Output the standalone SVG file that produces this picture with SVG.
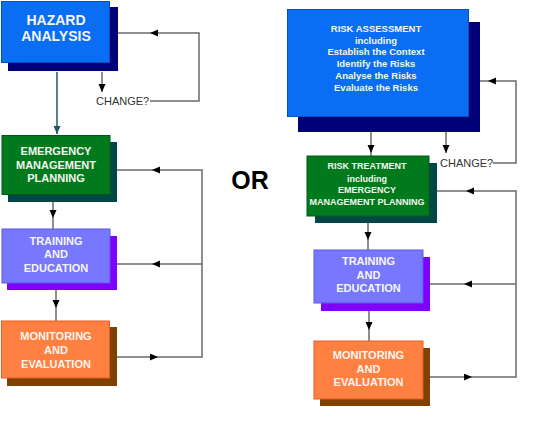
<svg xmlns="http://www.w3.org/2000/svg" width="548" height="438" viewBox="0 0 548 438">
<defs>
<style>
.t{font-family:"Liberation Sans",Arial,sans-serif;font-weight:bold;fill:#f6f6f0;text-anchor:middle}
.c{font-family:"Liberation Sans",Arial,sans-serif;font-size:11px;fill:#333}
.ln{fill:none;stroke:#6a6a6a;stroke-width:1.5}
.blue{fill:#0a6ef5;stroke:#0050c0;stroke-width:1}
.navy{fill:#000078}
.green{fill:#007a1c;stroke:#005a14;stroke-width:1}
.dteal{fill:#004848}
.lav{fill:#7777ff;stroke:#5a5ae0;stroke-width:1}
.purp{fill:#8000ff}
.orng{fill:#ff8040;stroke:#e06020;stroke-width:1}
.brwn{fill:#804000}
</style>
<marker id="ah" markerUnits="userSpaceOnUse" markerWidth="9" markerHeight="8" refX="8" refY="3.5" orient="auto">
<path d="M0,0 L8,3.5 L0,7 z" fill="#000"/>
</marker>
<marker id="aht" markerUnits="userSpaceOnUse" markerWidth="9" markerHeight="8" refX="8" refY="3.5" orient="auto">
<path d="M0,0 L8,3.5 L0,7 z" fill="#1f5a60"/>
</marker>
</defs>
<rect width="548" height="438" fill="#fff"/>

<g id="connectors">
<!-- left side -->
<path d="M57,72 V134" fill="none" stroke="#1f5a60" stroke-width="1.5" marker-end="url(#aht)"/>
<path d="M102,72 V92" class="ln" marker-end="url(#ah)"/>
<path d="M150,101 H199 V33 H150" class="ln" marker-end="url(#ah)"/>
<path d="M150,33 H118" class="ln"/>
<path d="M53,202 V218" class="ln" marker-end="url(#ah)"/>
<path d="M53,218 V229" class="ln"/>
<path d="M56,290 V308" class="ln" marker-end="url(#ah)"/>
<path d="M56,308 V321" class="ln"/>
<path d="M117,357 H158" class="ln" marker-end="url(#ah)"/>
<path d="M158,357 H202 V170 H152" class="ln" marker-end="url(#ah)"/>
<path d="M152,170 H117" class="ln"/>
<path d="M202,264 H152" class="ln" marker-end="url(#ah)"/>
<path d="M152,264 H117" class="ln"/>
<!-- right side -->
<path d="M371,132 V153" class="ln" marker-end="url(#ah)"/>
<path d="M371,153 V156" class="ln"/>
<path d="M446,132 V153" class="ln" marker-end="url(#ah)"/>
<path d="M493,163 H516 V81 H488" class="ln" marker-end="url(#ah)"/>
<path d="M488,81 H480" class="ln"/>
<path d="M368,223 V240" class="ln" marker-end="url(#ah)"/>
<path d="M368,240 V250" class="ln"/>
<path d="M369,311 V330" class="ln" marker-end="url(#ah)"/>
<path d="M369,330 V341" class="ln"/>
<path d="M430,377 H472" class="ln" marker-end="url(#ah)"/>
<path d="M472,377 H516 V191 H466" class="ln" marker-end="url(#ah)"/>
<path d="M466,191 H437" class="ln"/>
<path d="M516,284 H464" class="ln" marker-end="url(#ah)"/>
<path d="M464,284 H430" class="ln"/>
</g>

<g id="hazard-analysis">
<rect x="8" y="7" width="110" height="64" class="navy"/>
<rect x="1.5" y="1.5" width="108" height="61" class="blue"/>
<text class="t" x="56" y="25" font-size="14">HAZARD</text>
<text class="t" x="56" y="41" font-size="14">ANALYSIS</text>
</g>
<text id="change-left" class="c" x="96" y="105">CHANGE?</text>

<g id="emergency-management-planning">
<rect x="8" y="142" width="109" height="60" class="dteal"/>
<rect x="2" y="135.5" width="108" height="59" class="green"/>
<text class="t" x="56" y="155" font-size="11">EMERGENCY</text>
<text class="t" x="56" y="168.5" font-size="11">MANAGEMENT</text>
<text class="t" x="56" y="182" font-size="11">PLANNING</text>
</g>

<g id="training-left">
<rect x="7" y="236" width="110" height="54" class="purp"/>
<rect x="2" y="229" width="108" height="54" class="lav"/>
<text class="t" x="56" y="244.5" font-size="11">TRAINING</text>
<text class="t" x="56" y="258" font-size="11">AND</text>
<text class="t" x="56" y="271.5" font-size="11">EDUCATION</text>
</g>

<g id="monitoring-left">
<rect x="7" y="327" width="110" height="59" class="brwn"/>
<rect x="1.5" y="321" width="108" height="57" class="orng"/>
<text class="t" x="56" y="340" font-size="11">MONITORING</text>
<text class="t" x="56" y="354" font-size="11">AND</text>
<text class="t" x="56" y="367.5" font-size="11">EVALUATION</text>
</g>

<text id="or" x="250" y="189" font-family="Liberation Sans,Arial,sans-serif" font-weight="bold" font-size="25" fill="#000" text-anchor="middle">OR</text>

<g id="risk-assessment">
<rect x="298" y="22" width="182" height="110" class="navy"/>
<rect x="287.5" y="9.5" width="181" height="107" class="blue"/>
<text class="t" x="376" y="31.7" font-size="9.5">RISK ASSESSMENT</text>
<text class="t" x="376" y="43.5" font-size="9.5">including</text>
<text class="t" x="376" y="55.2" font-size="9.5">Establish the Context</text>
<text class="t" x="376" y="67" font-size="9.5">Identify the Risks</text>
<text class="t" x="376" y="78.8" font-size="9.5">Analyse the Risks</text>
<text class="t" x="376" y="90.6" font-size="9.5">Evaluate the Risks</text>
</g>
<text id="change-right" class="c" x="440" y="167">CHANGE?</text>

<g id="risk-treatment">
<rect x="315" y="163" width="122" height="60" class="dteal"/>
<rect x="307" y="156" width="122" height="60" class="green"/>
<text class="t" x="367" y="169.3" font-size="9">RISK TREATMENT</text>
<text class="t" x="367" y="181.5" font-size="9">including</text>
<text class="t" x="367" y="193.3" font-size="9">EMERGENCY</text>
<text class="t" x="367" y="205" font-size="9">MANAGEMENT PLANNING</text>
</g>

<g id="training-right">
<rect x="321" y="257" width="109" height="54" class="purp"/>
<rect x="314" y="250" width="109" height="53" class="lav"/>
<text class="t" x="368.5" y="265" font-size="11">TRAINING</text>
<text class="t" x="368.5" y="278.5" font-size="11">AND</text>
<text class="t" x="368.5" y="292.3" font-size="11">EDUCATION</text>
</g>

<g id="monitoring-right">
<rect x="320" y="348" width="110" height="58" class="brwn"/>
<rect x="314" y="341" width="109" height="58" class="orng"/>
<text class="t" x="368.5" y="359" font-size="11">MONITORING</text>
<text class="t" x="368.5" y="372.5" font-size="11">AND</text>
<text class="t" x="368.5" y="386" font-size="11">EVALUATION</text>
</g>
</svg>
